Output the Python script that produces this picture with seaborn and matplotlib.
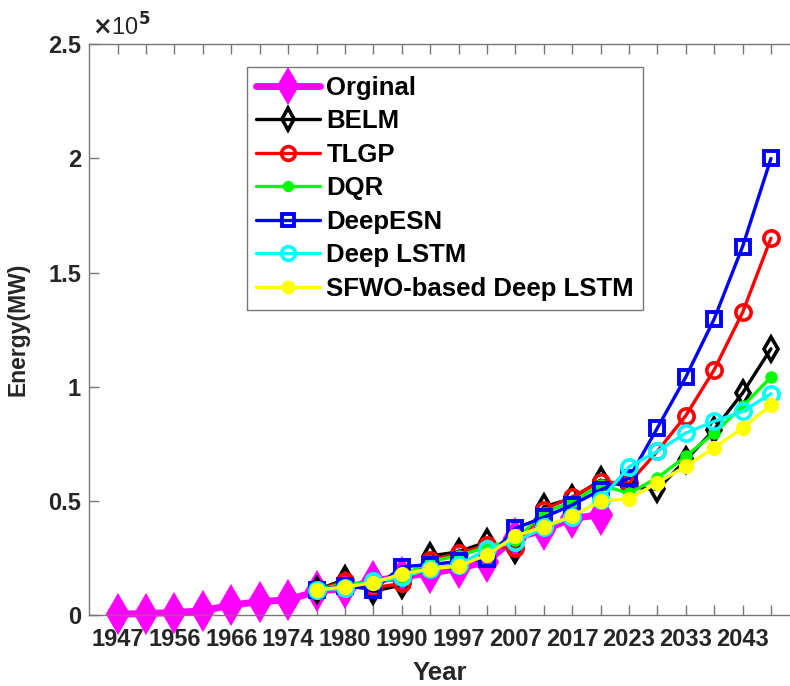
import matplotlib
matplotlib.use("Agg")
import matplotlib.pyplot as plt
import seaborn as sns
import numpy as np
import pandas as pd
from matplotlib.ticker import FixedLocator, FuncFormatter

# ---- data (values in MW) ----
positions = list(range(1, 25))
tick_labels = ["1947", "", "1956", "", "1966", "", "1974", "", "1980", "", "1990", "",
               "1997", "", "2007", "", "2017", "", "2023", "", "2033", "", "2043", ""]

orig_pos = list(range(1, 19))
orginal = [500, 800, 1200, 2000, 4500, 6000, 6800, 10500, 11800, 15000, 17000, 18400,
           20600, 23500, 34000, 37300, 42500, 44000]

model_pos = list(range(8, 25))
belm = [11000, 15800, 10500, 13300, 26000, 27800, 32200, 28600, 47500, 51200, 59200,
        56300, 55100, 68000, 81300, 97300, 116700]
tlgp = [11000, 15000, 12000, 14000, 24200, 27100, 30800, 29300, 46100, 51900, 58500,
        57800, 71800, 87400, 107500, 132600, 165100]
dqr = [11000, 14000, 14000, 17000, 23700, 26000, 30000, 33000, 45000, 49700, 57100,
       53400, 60200, 69600, 79800, 91500, 104300]
deepesn = [11000, 13000, 11300, 21300, 22200, 23600, 24500, 38100, 42900, 48300, 54900,
           60000, 82000, 104300, 129700, 161400, 200000]
deeplstm = [11000, 12000, 15000, 16600, 20500, 22000, 29000, 32200, 38500, 43000, 50500,
            65000, 71800, 79800, 84900, 89300, 97000]
sfwo = [11100, 12500, 14300, 18100, 20300, 21600, 26400, 34700, 38800, 43500, 50000,
        51000, 58000, 65300, 73300, 82000, 92000]

series_names = ["Orginal", "BELM", "TLGP", "DQR", "DeepESN", "Deep LSTM", "SFWO-based Deep LSTM"]
series_x = [orig_pos, model_pos, model_pos, model_pos, model_pos, model_pos, model_pos]
series_y = [orginal, belm, tlgp, dqr, deepesn, deeplstm, sfwo]

rows = []
for name, xs, ys in zip(series_names, series_x, series_y):
    for xv, yv in zip(xs, ys):
        rows.append({"Series": name, "pos": xv, "Energy": yv})
df = pd.DataFrame(rows)

styles = {
    "Orginal": dict(color="#FF00FF", marker="d", markersize=19, linewidth=5,
                    markerfacecolor="#FF00FF", markeredgecolor="#FF00FF", markeredgewidth=1.5),
    "BELM": dict(color="black", marker="d", markersize=12, linewidth=2.4,
                 markerfacecolor="none", markeredgecolor="black", markeredgewidth=2.6),
    "TLGP": dict(color="#FF0000", marker="o", markersize=11, linewidth=2.4,
                 markerfacecolor="none", markeredgecolor="#FF0000", markeredgewidth=2.6),
    "DQR": dict(color="#00FF00", marker="o", markersize=8, linewidth=2.4,
                markerfacecolor="#00FF00", markeredgecolor="#00FF00", markeredgewidth=1),
    "DeepESN": dict(color="#0000FF", marker="s", markersize=9.5, linewidth=2.4,
                    markerfacecolor="none", markeredgecolor="#0000FF", markeredgewidth=2.8),
    "Deep LSTM": dict(color="#00FFFF", marker="o", markersize=11, linewidth=2.4,
                      markerfacecolor="none", markeredgecolor="#00FFFF", markeredgewidth=2.6),
    "SFWO-based Deep LSTM": dict(color="#FFFF00", marker="o", markersize=10, linewidth=2.4,
                                 markerfacecolor="#FFFF00", markeredgecolor="#FFFF00",
                                 markeredgewidth=1),
}

sns.set_theme(style="white")
FAM = ["Liberation Sans", "DejaVu Sans"]
plt.rcParams["font.family"] = FAM
plt.rcParams["font.weight"] = "bold"

fig = plt.figure(figsize=(7.9, 6.86), dpi=100)
ax = fig.add_axes([0.113, 0.103, 0.887, 0.8325])

handles = []
for name in series_names:
    sub = df[df["Series"] == name]
    n_before = len(ax.lines)
    sns.lineplot(data=sub, x="pos", y="Energy", ax=ax, errorbar=None, sort=False,
                 **styles[name])
    ln = ax.lines[n_before]
    ln.set_clip_on(False)
    handles.append(ln)

ax.set_xlim(0, 24.67)
ax.set_ylim(0, 250000)

axis_col = "#777777"
text_col = "#262626"
for side in ["left", "bottom", "top"]:
    ax.spines[side].set_visible(True)
    ax.spines[side].set_color(axis_col)
    ax.spines[side].set_linewidth(1.0)
ax.spines["right"].set_visible(False)

ax.xaxis.set_major_locator(FixedLocator(positions))
ax.set_xticklabels(tick_labels)
ax.set_yticks([0, 50000, 100000, 150000, 200000, 250000])
ax.yaxis.set_major_formatter(FuncFormatter(lambda v, p: "%g" % (v / 1e5)))
ax.tick_params(axis="x", direction="in", length=7, width=1, color=axis_col,
               top=True, bottom=True, labelsize=17, labelcolor=text_col, pad=9)
ax.tick_params(axis="y", direction="in", length=7, width=1, color=axis_col,
               left=True, right=False, labelsize=17, labelcolor=text_col, pad=6)
for lab in ax.get_xticklabels() + ax.get_yticklabels():
    lab.set_fontweight("bold")

ax.set_xlabel("Year", fontsize=18.5, fontweight="bold", color=text_col, labelpad=7)
ax.set_ylabel("Energy(MW)", fontsize=16.5, fontweight="bold", color=text_col, labelpad=13)

ax.text(0.004, 1.006, r"$\times$10$^5$", transform=ax.transAxes, fontsize=17,
        fontweight="normal", color=text_col, ha="left", va="bottom",
        family=FAM)

leg = ax.legend(handles, series_names, loc="upper left", bbox_to_anchor=(0.2246, 0.9608),
                frameon=True, fancybox=False, shadow=False, framealpha=1,
                edgecolor=axis_col, prop={"size": 18.5, "weight": "bold", "family": FAM},
                handlelength=2.5, handletextpad=0.25, borderpad=0.35, labelspacing=0.37,
                borderaxespad=0, markerscale=0.9)
leg.get_frame().set_linewidth(1.0)
for t in leg.get_texts():
    t.set_color("black")

fig.savefig("out.png", dpi=100)
